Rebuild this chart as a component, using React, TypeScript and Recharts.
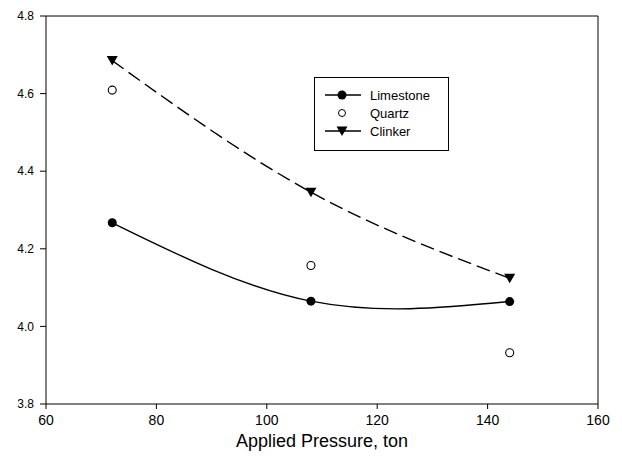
import { ComposedChart, Line, Scatter, XAxis, YAxis, ReferenceLine } from "recharts"

// Applied pressure (ton) for each test
const pressures = [72, 108, 144]

// Measured values per material
const limestone = [4.267, 4.065, 4.064]
const quartz = [4.609, 4.157, 3.932]
const clinker = [4.685, 4.346, 4.124]

const xTicks = [60, 80, 100, 120, 140, 160]
const yTicks = [3.8, 4.0, 4.2, 4.4, 4.6, 4.8]

const data = pressures.map((p, i) => ({
  pressure: p,
  limestone: limestone[i],
  quartz: quartz[i],
  clinker: clinker[i],
}))

const FONT = "'Liberation Sans', Arial, sans-serif"

const FilledDot = (props: any) => {
  const { cx, cy, key } = props
  if (cx == null || cy == null) return null
  return <circle key={key} cx={cx} cy={cy} r={4.5} fill="#000" stroke="none" />
}

const TriangleDot = (props: any) => {
  const { cx, cy, key } = props
  if (cx == null || cy == null) return null
  return <path key={key} d={`M${cx - 5.5},${cy - 4.5} L${cx + 5.5},${cy - 4.5} L${cx},${cy + 5} Z`} fill="#000" />
}

const OpenCircle = (props: any) => {
  const { cx, cy } = props
  return <circle cx={cx} cy={cy} r={4} fill="#fff" stroke="#000" strokeWidth={1.1} />
}

const LegendBox = () => {
  const rows = [
    { name: "Limestone", kind: "circle" },
    { name: "Quartz", kind: "open" },
    { name: "Clinker", kind: "tri" },
  ]
  return (
    <div
      style={{
        position: "absolute",
        left: 314,
        top: 77,
        border: "1px solid #000",
        width: 135,
        height: 74,
        boxSizing: "border-box",
        padding: "8px 0 0 9px",
        fontFamily: FONT,
        fontSize: 13,
        background: "#fff",
      }}
    >
      {rows.map((r) => (
        <div key={r.name} style={{ display: "flex", alignItems: "center", height: 18 }}>
          <svg width={46} height={14} style={{ display: "block" }}>
            {r.kind !== "open" && <line x1={1} y1={7} x2={37} y2={7} stroke="#000" strokeWidth={1.3} />}
            {r.kind === "circle" && <circle cx={18} cy={7} r={4.5} fill="#000" />}
            {r.kind === "open" && <circle cx={18} cy={7} r={3.5} fill="#fff" stroke="#000" strokeWidth={1} />}
            {r.kind === "tri" && <path d="M12.5,2.5 L23.5,2.5 L18,12 Z" fill="#000" />}
          </svg>
          <span style={{ color: "#000" }}>{r.name}</span>
        </div>
      ))}
    </div>
  )
}

export default function App() {
  return (
    <div style={{ position: "absolute", left: 0, top: 0, width: 622, height: 464, background: "#fff" }}>
      <ComposedChart width={622} height={464} data={data} margin={{ top: 16, right: 24, bottom: 0, left: 0 }}>
        <XAxis
          type="number"
          dataKey="pressure"
          domain={[60, 160]}
          ticks={xTicks}
          height={60}
          tickSize={5}
          tickMargin={6}
          stroke="#000"
          tick={{ fill: "#000", fontSize: 14, fontFamily: FONT }}
          label={{
            value: "Applied Pressure, ton",
            position: "insideBottom",
            offset: 17,
            fill: "#000",
            fontSize: 18,
            fontFamily: FONT,
          }}
        />
        <YAxis
          type="number"
          domain={[3.8, 4.8]}
          ticks={yTicks}
          width={46}
          tickSize={6}
          tickMargin={6}
          stroke="#000"
          tickFormatter={(v: number) => v.toFixed(1)}
          tick={{ fill: "#000", fontSize: 12, fontFamily: FONT }}
        />
        <ReferenceLine y={4.8} stroke="#000" strokeWidth={1} />
        <ReferenceLine x={160} stroke="#000" strokeWidth={1} />
        <Line
          type="natural"
          dataKey="limestone"
          name="Limestone"
          stroke="#000"
          strokeWidth={1.4}
          dot={FilledDot}
          activeDot={false}
          isAnimationActive={false}
        />
        <Line
          type="natural"
          dataKey="clinker"
          name="Clinker"
          stroke="#000"
          strokeWidth={1.4}
          strokeDasharray="14 6"
          dot={TriangleDot}
          activeDot={false}
          isAnimationActive={false}
        />
        <Scatter dataKey="quartz" name="Quartz" shape={OpenCircle} isAnimationActive={false} />
      </ComposedChart>
      <LegendBox />
    </div>
  )
}
